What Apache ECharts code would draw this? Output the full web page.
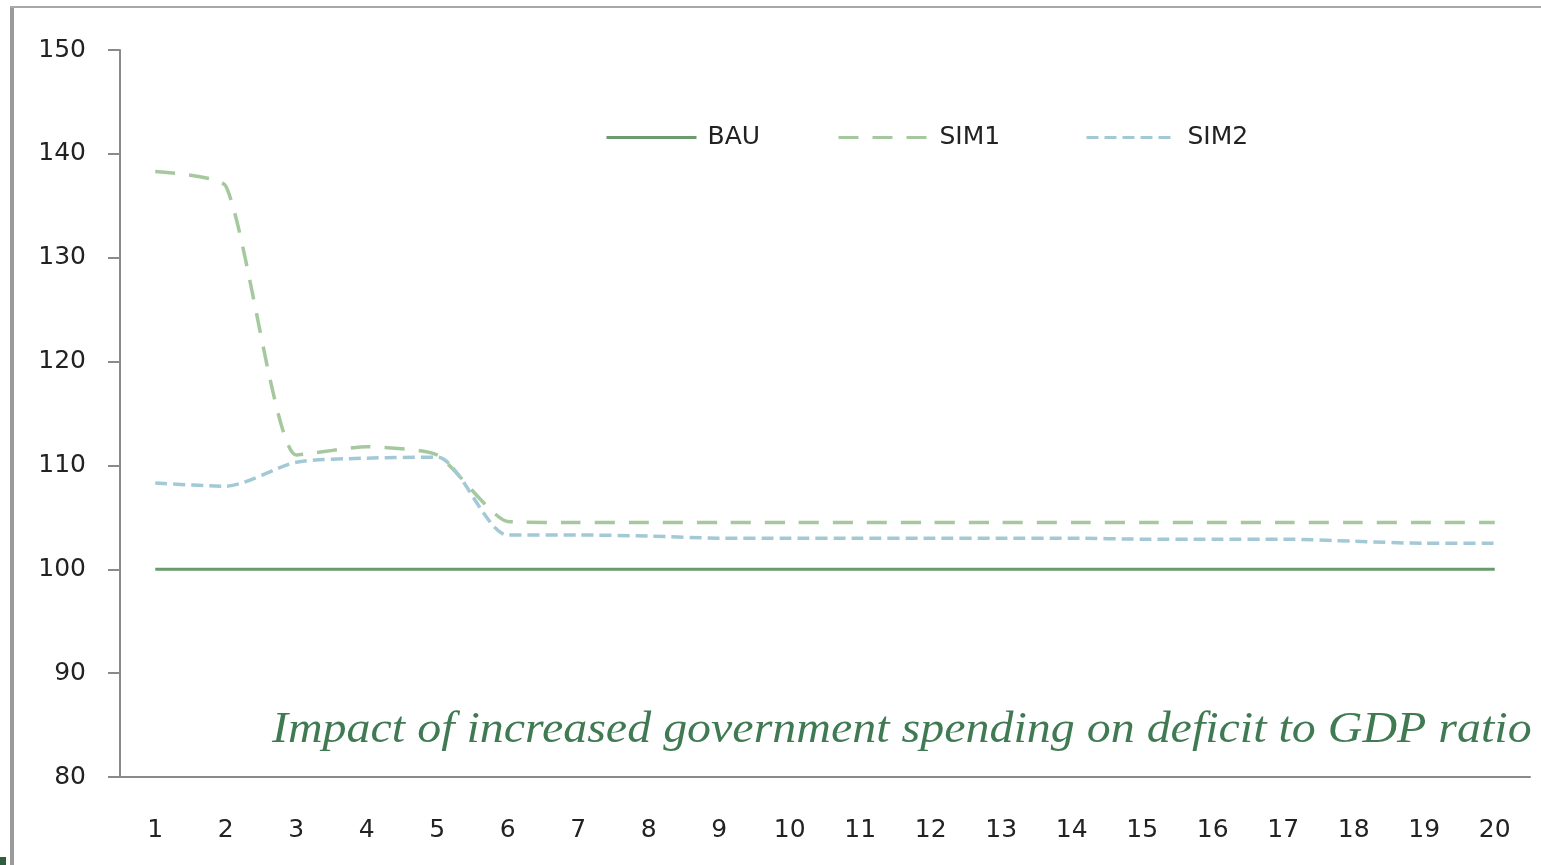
<!DOCTYPE html>
<html>
<head>
<meta charset="utf-8">
<script src="https://cdn.jsdelivr.net/npm/echarts@6/dist/echarts.min.js"></script>
<style>
html, body { margin: 0; padding: 0; background: #fff; }
#chart { width: 1541px; height: 865px; }
</style>
</head>
<body>
<div id="chart"></div>
<script>
// data
var periods = ['1','2','3','4','5','6','7','8','9','10','11','12','13','14','15','16','17','18','19','20']
var bau = [100,100,100,100,100,100,100,100,100,100,100,100,100,100,100,100,100,100,100,100]
var sim1 = [138.3,136.9,111.0,111.8,111.0,104.6,104.5,104.5,104.5,104.5,104.5,104.5,104.5,104.5,104.5,104.5,104.5,104.5,104.5,104.5]
var sim2 = [108.3,108.0,110.3,110.7,110.8,103.3,103.3,103.2,103.0,103.0,103.0,103.0,103.0,103.0,102.9,102.9,102.9,102.7,102.5,102.5]
var seriesNames = ['BAU', 'SIM1', 'SIM2']
var titleText = 'Impact of increased government spending on deficit to GDP ratio'

var chart = echarts.init(document.getElementById('chart'))
var axisFont = 'DejaVu Sans'
var legendLeft = [605, 837, 1085]

// one legend per item so each can sit where the original has it
function makeLegend (name, i) {
	return {
		data: [name],
		left: legendLeft[i],
		top: 125,
		padding: 0,
		itemWidth: 90,
		itemHeight: 14,
		itemGap: 0,
		itemStyle: { opacity: 0 },
		lineStyle: { width: 3 },
		textStyle: { fontFamily: axisFont, fontSize: 25, color: '#222', padding: [0, 0, 0, 6] }
	}
}

chart.setOption({
	animation: false,
	backgroundColor: '#fff',
	grid: { left: 120, right: 11, top: 50, bottom: 88 },
	legend: seriesNames.map(makeLegend),
	xAxis: {
		type: 'category',
		data: periods,
		boundaryGap: true,
		axisLine: { lineStyle: { color: '#8a8a8a', width: 2 } },
		axisTick: { length: 8, lineStyle: { color: '#8a8a8a', width: 2 } },
		axisLabel: { margin: 41, fontFamily: axisFont, fontSize: 25, color: '#222' },
		splitLine: { show: false }
	},
	yAxis: {
		type: 'value',
		min: 80,
		max: 150,
		interval: 10,
		axisLine: { show: true, lineStyle: { color: '#8a8a8a', width: 2 } },
		axisTick: { show: true, length: 12, lineStyle: { color: '#8a8a8a', width: 2 } },
		axisLabel: { margin: 34, fontFamily: axisFont, fontSize: 25, color: '#222' },
		splitLine: { show: false }
	},
	graphic: [
		{ type: 'rect', shape: { x: 10, y: 7, width: 4, height: 860 }, style: { fill: '#9a9a9a' } },
		{ type: 'rect', shape: { x: 10, y: 6, width: 1531, height: 2 }, style: { fill: '#a8a8a8' } },
		{ type: 'rect', shape: { x: 0, y: 857, width: 6, height: 8 }, style: { fill: '#2e5e3e' } },
		{
			type: 'text',
			x: 272,
			y: 708,
			scaleX: 1.09,
			style: {
				text: titleText,
				font: 'italic 44px "Liberation Serif"',
				fill: '#3f7a52'
			}
		}
	],
	series: [
		{
			name: 'BAU',
			type: 'line',
			data: bau,
			symbol: 'none',
			lineStyle: { color: '#6a9a6e', width: 3 },
			itemStyle: { color: '#6a9a6e' }
		},
		{
			name: 'SIM1',
			type: 'line',
			data: sim1,
			symbol: 'none',
			smooth: 0.18,
			lineStyle: { color: '#a6c89f', width: 3.5, type: [20, 14] },
			itemStyle: { color: '#a6c89f' }
		},
		{
			name: 'SIM2',
			type: 'line',
			data: sim2,
			symbol: 'none',
			smooth: 0.25,
			lineStyle: { color: '#a3c9d6', width: 3.5, type: [12, 6] },
			itemStyle: { color: '#a3c9d6' }
		}
	]
})
</script>
</body>
</html>
